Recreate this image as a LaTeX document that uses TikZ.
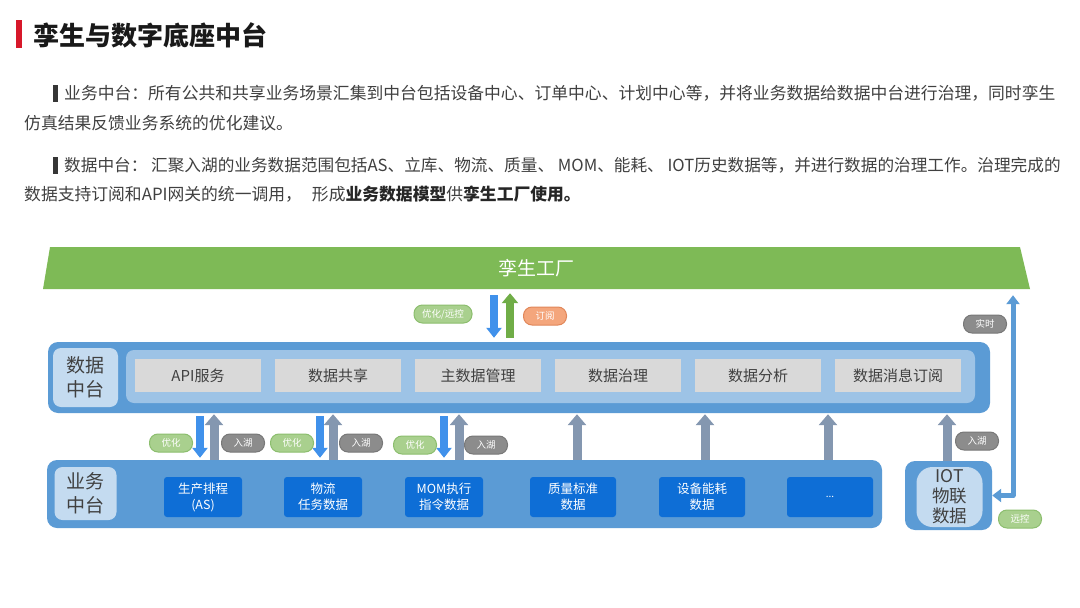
\documentclass[tikz,border=0pt]{standalone}
\usepackage{fontspec}
\setmainfont{Noto Sans CJK SC}
\usepackage{tikz}
\usetikzlibrary{arrows.meta,positioning,calc}

\definecolor{titlered}{RGB}{215,24,42}
\definecolor{txtgray}{RGB}{64,64,64}
\definecolor{twingreen}{RGB}{126,186,86}
\definecolor{upgreen}{RGB}{112,173,71}
\definecolor{dpblue}{RGB}{91,155,213}
\definecolor{bandblue}{RGB}{157,195,230}
\definecolor{lblblue}{RGB}{196,219,240}
\definecolor{boxgray}{RGB}{217,217,217}
\definecolor{bizblue}{RGB}{14,110,214}
\definecolor{arrblue}{RGB}{64,145,235}
\definecolor{arrslate}{RGB}{132,151,176}
\definecolor{pillgreenfill}{RGB}{169,208,142}
\definecolor{pillgreenline}{RGB}{140,190,110}
\definecolor{pillgrayfill}{RGB}{140,140,140}
\definecolor{pillgrayline}{RGB}{120,120,120}
\definecolor{pillorangefill}{RGB}{244,166,124}
\definecolor{pillorangeline}{RGB}{225,135,90}

\newcommand{\parmark}{{\color{txtgray!85!black}\rule[-2pt]{5pt}{17pt}}\hspace{6pt}}

\begin{document}
\begin{tikzpicture}[x=1pt,y=-1pt,line cap=round,line join=round,
  para/.style={anchor=west,inner sep=0pt,text=txtgray,font=\fontsize{16.8}{20}\selectfont},
  platform/.style={fill=dpblue,rounded corners=10pt,inner sep=0pt},
  lblbox/.style={fill=lblblue,rounded corners=8pt,inner sep=0pt,align=center,text=txtgray,font=\fontsize{19}{24}\selectfont},
  svcbox/.style={fill=boxgray,minimum width=126pt,minimum height=33pt,inner sep=0pt,text=txtgray,font=\fontsize{15}{18}\selectfont},
  bizbox/.style={fill=bizblue,rounded corners=3pt,minimum height=40pt,inner sep=0pt,align=center,text=white,font=\fontsize{12.5}{16}\selectfont},
  pill/.style={rounded corners=8.5pt,minimum width=43pt,minimum height=18pt,inner sep=0pt,line width=1pt,text=white,font=\fontsize{9.5}{10}\selectfont},
  pillgreen/.style={pill,fill=pillgreenfill,draw=pillgreenline},
  pillgray/.style={pill,fill=pillgrayfill,draw=pillgrayline},
  pillorange/.style={pill,fill=pillorangefill,draw=pillorangeline},
  dnA/.style={draw=arrblue,line cap=butt,line width=8pt,-{Triangle[width=15pt,length=10pt]}},
  upA/.style={draw=arrslate,line cap=butt,line width=9pt,-{Triangle[width=18pt,length=11pt]}},
  upG/.style={draw=upgreen,line cap=butt,line width=8pt,-{Triangle[width=16pt,length=10pt]}},
  loopA/.style={draw=dpblue,line cap=butt,line width=5pt,{Triangle[width=13pt,length=9pt]}-{Triangle[width=13pt,length=9pt]}}]
\path[use as bounding box,fill=white] (0,0) rectangle (1080,608);

\fill[titlered] (16,20) rectangle (22,48);
\node[anchor=west,inner sep=0pt,text=black!90,font=\fontsize{26}{30}\selectfont\bfseries] (title) at (33,35) {孪生与数字底座中台};

\node[para] (p1a) at (53,93) {\parmark 业务中台：所有公共和共享业务场景汇集到中台包括设备中心、订单中心、计划中心等，并将业务数据给数据中台进行治理，同时孪生};
\node[para] (p1b) at (24,123) {仿真结果反馈业务系统的优化建议。};
\node[para,font=\fontsize{16.65}{20}\selectfont] (p2a) at (53,165) {\parmark 数据中台： 汇聚入湖的业务数据范围包括AS、立库、物流、质量、 MOM、能耗、 IOT历史数据等，并进行数据的治理工作。治理完成的};
\node[para] (p2b) at (24,194) {数据支持订阅和API网关的统一调用，\hspace{10pt}形成{\color{black!85}\bfseries 业务数据模型}供{\color{black!85}\bfseries 孪生工厂使用。}};

\fill[twingreen] (50,247) -- (1020,247) -- (1030,289) -- (43,289) -- cycle;
\node[minimum width=987pt,minimum height=42pt,inner sep=0pt,text=white,font=\fontsize{19}{22}\selectfont] (twin) at (536.5,268) {孪生工厂};

\node[platform,minimum width=942pt,minimum height=71pt] (dp) at (519,377.5) {};
\node[fill=bandblue,rounded corners=8pt,minimum width=849pt,minimum height=53pt,inner sep=0pt] (dpband) at (550.5,376.5) {};
\node[lblbox,minimum width=65pt,minimum height=59pt] (dplbl) at (85.5,377.5) {数据\\中台};
\foreach \i/\t in {0/API服务,1/数据共享,2/主数据管理,3/数据治理,4/数据分析,5/数据消息订阅}
  \node[svcbox] (s\i) at (198+140*\i,375.5) {\t};

\node[platform,minimum width=835pt,minimum height=68pt] (bp) at (464.5,494) {};
\node[lblbox,minimum width=62pt,minimum height=53pt] (bplbl) at (85.5,493.5) {业务\\中台};
\node[bizbox,minimum width=78pt] (b1) at (203,497) {生产排程\\(AS)};
\node[bizbox,minimum width=78pt] (b2) at (323,497) {物流\\任务数据};
\node[bizbox,minimum width=78pt] (b3) at (444,497) {MOM执行\\指令数据};
\node[bizbox,minimum width=86pt] (b4) at (573,497) {质量标准\\数据};
\node[bizbox,minimum width=86pt] (b5) at (702,497) {设备能耗\\数据};
\node[bizbox,minimum width=86pt,font=\fontsize{10}{12}\selectfont] (b6) at (830,497) {...};

\node[platform,minimum width=87pt,minimum height=69pt] (iot) at (948.5,495.5) {};
\node[fill=lblblue,rounded corners=16pt,minimum width=66pt,minimum height=60pt,inner sep=0pt,align=center,text=txtgray,font=\fontsize{17.5}{20}\selectfont] (iotin) at (949.5,497) {IOT\\物联\\数据};

\draw[dnA,shorten <=6pt,shorten >=4pt] (494,0 |- twin.south) -- (494,0 |- dp.north);
\draw[upG,shorten <=4pt,shorten >=4pt] (510,0 |- dp.north) -- (510,0 |- twin.south);
\node[pillgreen,minimum width=58pt] (optrc) at (443,314) {优化/远控};
\node[pillorange] (sub) at (545,316) {订阅};

\foreach \xd/\xu in {200/214,320/333,444/459} {
  \draw[dnA,shorten <=3pt,shorten >=2pt] (\xd,0 |- dp.south) -- (\xd,0 |- bp.north);
  \draw[upA,shorten >=1pt] (\xu,0 |- bp.north) -- (\xu,0 |- dp.south);
}
\foreach \xu in {577,705,828}
  \draw[upA,shorten >=1pt] (\xu,0 |- bp.north) -- (\xu,0 |- dp.south);
\draw[upA,shorten >=1pt] (947,0 |- iot.north) -- (947,0 |- dp.south);

\node[pillgreen] (opt1) at (171,443) {优化};
\node[pillgray] (in1) at (243,443) {入湖};
\node[pillgreen] (opt2) at (292,443) {优化};
\node[pillgray] (in2) at (361,443) {入湖};
\node[pillgreen] (opt3) at (415,445) {优化};
\node[pillgray] (in3) at (486,445) {入湖};
\node[pillgray] (in4) at (977,441) {入湖};

\draw[loopA,shorten >=6pt] (iot.east) -| (1013,0 |- twin.south);
\node[pillgray] (rt) at (985,324) {实时};
\node[pillgreen] (rc) at (1020,519) {远控};
\end{tikzpicture}
\end{document}
